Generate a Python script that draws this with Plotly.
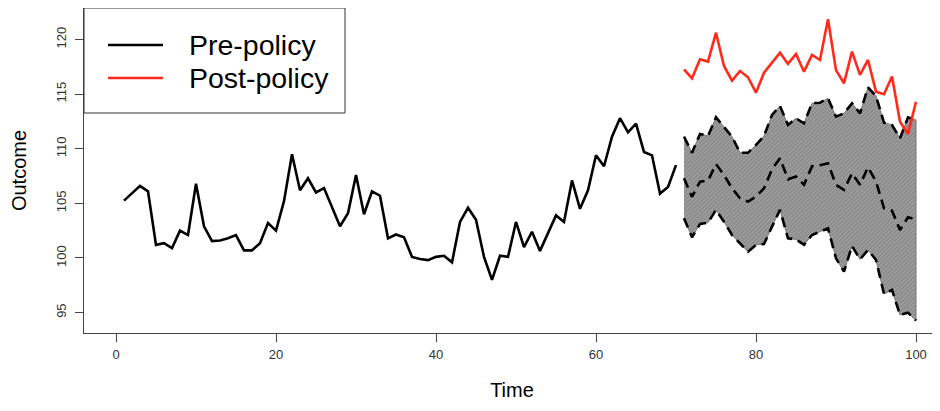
import plotly.graph_objects as go

pre_time = list(range(1, 71))
pre_values = [105.25, 105.9, 106.6, 106.1, 101.2, 101.35, 100.9, 102.5, 102.1, 106.8,
              102.9, 101.55, 101.6, 101.8, 102.1, 100.7, 100.7, 101.35, 103.2, 102.5,
              105.2, 109.5, 106.2, 107.3, 106.0, 106.4, 104.6, 102.9, 104.1, 107.6,
              104.0, 106.1, 105.7, 101.8, 102.15, 101.9, 100.1, 99.9, 99.8, 100.1,
              100.2, 99.6, 103.3, 104.6, 103.5, 100.1, 98.0, 100.2, 100.1, 103.3,
              101.0, 102.4, 100.65, 102.3, 103.9, 103.3, 107.1, 104.5, 106.2, 109.4,
              108.4, 111.1, 112.8, 111.5, 112.3, 109.7, 109.4, 105.9, 106.5, 108.5]

post_time = list(range(71, 101))
post_values = [117.28, 116.45, 118.2, 117.98, 120.63, 117.58, 116.24, 117.12, 116.55, 115.14,
               116.97, 117.88, 118.8, 117.77, 118.68, 117.06, 118.59, 118.13, 121.86, 117.2,
               116.0, 118.9, 116.76, 118.13, 115.23, 114.99, 116.61, 112.48, 111.36, 114.31]

cf_mean = [107.3, 105.6, 106.99, 107.08, 108.6, 107.6, 106.38, 105.47, 105.16, 105.6,
           106.38, 108.12, 109.13, 107.2, 107.45, 106.7, 108.4, 108.5, 108.67, 106.7,
           106.23, 107.75, 106.7, 108.3, 107.0, 104.55, 104.33, 102.56, 103.73, 103.54]

cf_upper = [111.11, 109.64, 111.36, 111.17, 112.88, 112.03, 111.11, 109.64, 109.64, 110.35,
            111.17, 113.1, 113.92, 112.18, 112.79, 112.33, 114.17, 114.22, 114.62, 112.94,
            113.25, 114.17, 113.25, 115.63, 114.84, 112.39, 112.18, 110.96, 112.88, 112.64]

cf_lower = [103.63, 101.9, 103.11, 103.23, 104.4, 103.32, 102.1, 101.35, 100.58, 101.2,
            101.28, 102.87, 104.4, 101.8, 101.7, 101.2, 102.1, 102.4, 102.72, 99.97,
            98.75, 101.1, 99.88, 100.73, 99.82, 96.7, 97.07, 94.78, 94.99, 94.26]

x_ticks = [0, 20, 40, 60, 80, 100]
y_ticks = [95, 100, 105, 110, 115, 120]

legend_labels = ["Pre-policy", "Post-policy"]
legend_colors = ["black", "#ff2a1a"]

fig = go.Figure()

# shaded band (polygon)
fig.add_trace(go.Scatter(
    x=post_time + post_time[::-1],
    y=cf_upper + cf_lower[::-1],
    fill="toself",
    fillcolor="#8c8c8c",
    fillpattern=dict(shape="/", fgcolor="#666666", bgcolor="#9c9c9c", size=3, solidity=0.3),
    line=dict(color="#777777", width=1),
    mode="lines",
    showlegend=False,
    hoverinfo="skip",
))
dash = "10px,6px"
for band in (cf_upper, cf_lower, cf_mean):
    fig.add_trace(go.Scatter(x=post_time, y=band, mode="lines",
                             line=dict(color="black", width=2.6, dash=dash), showlegend=False))

fig.add_trace(go.Scatter(x=pre_time, y=pre_values, mode="lines", name=legend_labels[0],
                         line=dict(color=legend_colors[0], width=2.6), showlegend=False))
fig.add_trace(go.Scatter(x=post_time, y=post_values, mode="lines", name=legend_labels[1],
                         line=dict(color=legend_colors[1], width=2.6), showlegend=False))

# legend box drawn in axis-domain coordinates (decoration only); screen px -> domain
W, H = 856.0, 325.0
def dx(px):
    return (px - 84) / W
def dy(py):
    return (333 - py) / H

shapes = [dict(type="rect", xref="x domain", yref="y domain",
               x0=0, x1=dx(345), y0=dy(113), y1=1,
               line=dict(color="#333333", width=1), fillcolor="white", layer="above")]
annotations = []
for i, (lab, col) in enumerate(zip(legend_labels, legend_colors)):
    yy = dy(45 + 33 * i)
    shapes.append(dict(type="line", xref="x domain", yref="y domain",
                       x0=dx(108), x1=dx(163), y0=yy, y1=yy,
                       line=dict(color=col, width=2.6), layer="above"))
    annotations.append(dict(xref="x domain", yref="y domain", x=dx(187), y=yy,
                            text=lab, showarrow=False, xanchor="left", yanchor="middle",
                            font=dict(family="Liberation Sans, Arial", size=28.5, color="black")))

tick_font = dict(family="Liberation Sans Narrow, Liberation Sans, Arial", size=13, color="#333333")
title_font = dict(family="Liberation Sans Narrow, Liberation Sans, Arial", size=20, color="black")

fig.update_layout(
    width=932, height=403,
    margin=dict(l=76, r=0, t=0, b=78, autoexpand=False),
    paper_bgcolor="white", plot_bgcolor="white",
    showlegend=False,
    shapes=shapes,
    annotations=annotations,
    xaxis=dict(
        range=[-4, 103], tickvals=x_ticks, ticktext=[str(v) for v in x_ticks],
        showgrid=False, zeroline=False, automargin=False,
        showline=True, linecolor="#444444", linewidth=1, mirror=True,
        ticks="outside", ticklen=8, tickcolor="#444444",
        tickfont=tick_font, ticklabelstandoff=1,
        title=dict(text="Time", font=title_font, standoff=22),
    ),
    yaxis=dict(
        range=[93.13, 122.89], tickvals=y_ticks, ticktext=[str(v) for v in y_ticks],
        showgrid=False, zeroline=False, automargin=False,
        showline=True, linecolor="#444444", linewidth=1,
        ticks="outside", ticklen=8, tickcolor="#444444",
        tickangle=-90,
        tickfont=tick_font, ticklabelstandoff=4,
        title=dict(text="Outcome", font=title_font, standoff=22),
    ),
)

fig.write_html("out.html")
